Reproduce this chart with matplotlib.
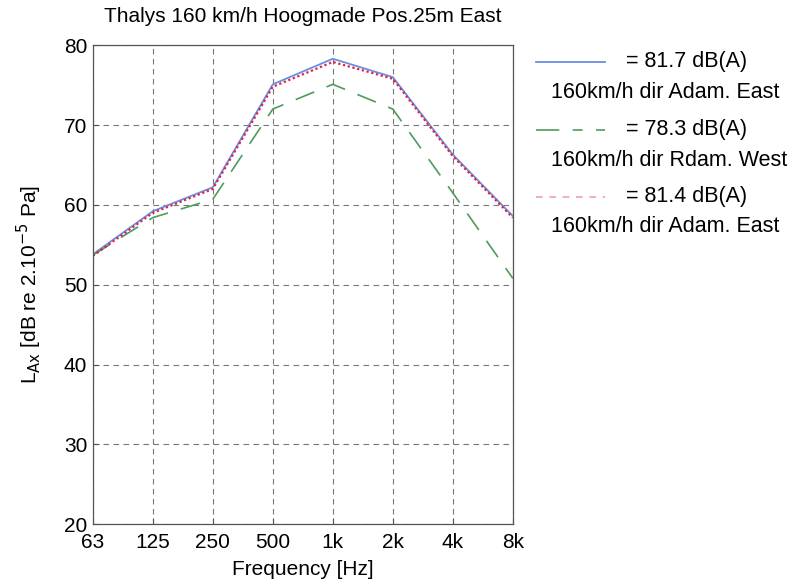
import matplotlib.pyplot as plt
from matplotlib.lines import Line2D

plt.rcParams['font.family'] = ['Liberation Sans', 'DejaVu Sans']

# Octave band data
freq_labels = ['63', '125', '250', '500', '1k', '2k', '4k', '8k']
lax_adam_east_1 = [53.8, 59.2, 62.2, 75.1, 78.3, 76.0, 66.3, 58.6]
lax_rdam_west = [53.7, 58.4, 60.7, 72.0, 75.1, 72.0, 61.5, 50.8]
lax_adam_east_2 = [53.6, 59.0, 62.0, 74.8, 77.9, 75.8, 66.1, 58.4]

legend_levels = ['= 81.7 dB(A)', '= 78.3 dB(A)', '= 81.4 dB(A)']
legend_names = ['160km/h dir Adam. East', '160km/h dir Rdam. West', '160km/h dir Adam. East']

fig = plt.figure(figsize=(8, 5.87), dpi=100)
ax = fig.add_axes([0.116, 0.107, 0.525, 0.816])

x = list(range(len(freq_labels)))
ax.plot(x, lax_adam_east_1, color='#6a8fe0', lw=1.3, solid_capstyle='butt')
ax.plot(x, lax_rdam_west, color='#4f9a5f', lw=1.2, dashes=(12, 8))
ax.plot(x, lax_adam_east_2, color='#e0204a', lw=1.6, linestyle=(0, (1, 1.2)))

ax.set_xlim(0, len(freq_labels) - 1)
ax.set_ylim(20, 80)
ax.set_xticks(x)
ax.set_xticklabels(freq_labels)
ax.set_yticks(range(20, 81, 10))
ax.tick_params(labelsize=15, direction='in', length=4, color='#555555')
ax.tick_params(axis='x', pad=6)
ax.tick_params(axis='y', pad=4)
ax.grid(True, linestyle=(0, (5, 4)), color='#777777', lw=0.8)
for s in ax.spines.values():
    s.set_color('#555555')
    s.set_linewidth(0.9)

ax.set_title('Thalys 160 km/h Hoogmade Pos.25m East', fontsize=15, pad=17)
ax.set_xlabel('Frequency [Hz]', fontsize=15, labelpad=6)
ax.set_ylabel(r'L$_{\mathrm{Ax}}$ [dB re 2.10$^{\mathrm{-5}}$ Pa]', fontsize=15, labelpad=14)

# legend drawn beside the axes
styles = [dict(color='#6a8fe0', lw=1.3),
          dict(color='#4f9a5f', lw=1.2, dashes=(14, 8, 6, 8)),
          dict(color='#f0a0b0', lw=1.2, dashes=(4, 4))]
line_y = [62, 130, 197]
for i in range(3):
    yf = 1 - line_y[i] / 587
    fig.add_artist(Line2D([536 / 800, 605 / 800], [yf, yf], transform=fig.transFigure, **styles[i]))
    fig.text(626 / 800, yf, legend_levels[i], fontsize=15.5, va='center', ha='left')
    fig.text(551 / 800, 1 - (line_y[i] + 30) / 587, legend_names[i], fontsize=15.5, va='center', ha='left')

fig.savefig('out.png', dpi=100)
